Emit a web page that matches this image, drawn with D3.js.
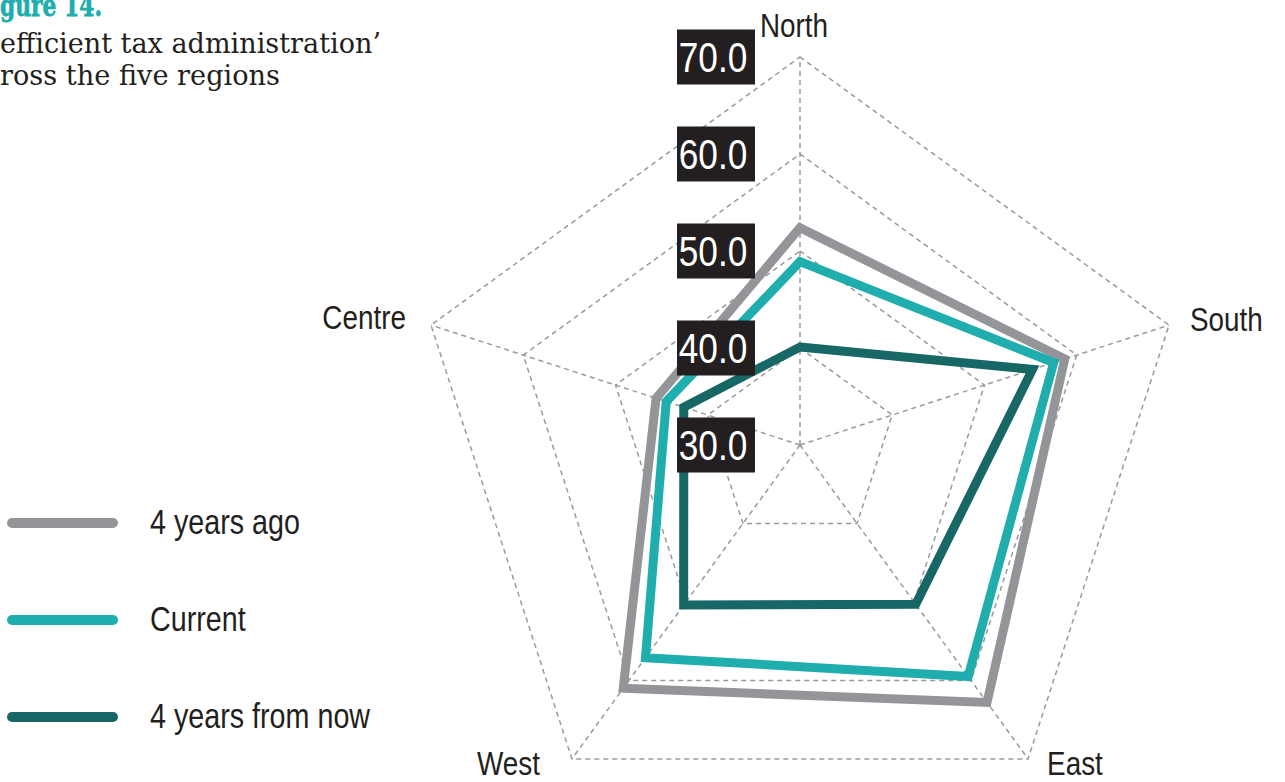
<!DOCTYPE html>
<html>
<head>
<meta charset="utf-8">
<script src="https://cdn.jsdelivr.net/npm/d3@7"></script>
<style>
  body { margin: 0; background: #fff; }
  svg { display: block; }
  .cond { font-family: "Liberation Sans", Arial, sans-serif; }
</style>
</head>
<body>
<div id="chart"></div>
<script>
// regions, clockwise from the top
const regions = ["North", "South", "East", "West", "Centre"];
const seriesNames = ["4 years ago", "Current", "4 years from now"];
const fourYearsAgo = [52.4, 58.7, 62.8, 61.0, 45.6];
const current = [48.9, 57.5, 59.5, 57.1, 44.5];
const fourYearsFromNow = [40.1, 55.2, 50.3, 50.4, 42.6];
const ticks = [30, 40, 50, 60, 70];
const colors = ["#939598", "#20adad", "#176767"];

const width = 1285, height = 782;
const cx = 800, cy = 445, radius = 388;
const narrow = 0.82; // fake a condensed face

const svg = d3.select("#chart").append("svg")
  .attr("width", width)
  .attr("height", height);

const r = d3.scaleLinear().domain([30, 70]).range([0, radius]);
const angle = d3.scalePoint().domain(regions.concat(["_end"])).range([0, 2 * Math.PI]);

function pt(region, value) {
  const a = angle(region);
  return [cx + r(value) * Math.sin(a), cy - r(value) * Math.cos(a)];
}

const g = svg.append("g");

// grid rings (centre value is just the middle point)
const lineClosed = d3.line().curve(d3.curveLinearClosed);
g.selectAll(".ring")
  .data(ticks.filter(t => t > 30))
  .enter()
  .append("path")
  .attr("class", "ring")
  .attr("d", t => lineClosed(regions.map(reg => pt(reg, t))))
  .attr("fill", "none")
  .attr("stroke", "#9a9a9c")
  .attr("stroke-width", 1.5)
  .attr("stroke-dasharray", "5,4");

// spokes
g.selectAll(".spoke")
  .data(regions)
  .enter()
  .append("line")
  .attr("class", "spoke")
  .attr("x1", cx)
  .attr("y1", cy)
  .attr("x2", d => pt(d, 70)[0])
  .attr("y2", d => pt(d, 70)[1])
  .attr("stroke", "#9a9a9c")
  .attr("stroke-width", 1.5)
  .attr("stroke-dasharray", "5,4");

// series
const series = [fourYearsAgo, current, fourYearsFromNow];
g.selectAll(".series")
  .data(series)
  .enter()
  .append("path")
  .attr("class", "series")
  .attr("d", vals => lineClosed(regions.map((reg, i) => pt(reg, vals[i]))))
  .attr("fill", "none")
  .attr("stroke", (d, i) => colors[i])
  .attr("stroke-width", 9)
  .attr("stroke-linejoin", "miter");

// tick labels in black boxes
const tickG = g.selectAll(".tick")
  .data(ticks)
  .enter()
  .append("g")
  .attr("class", "tick")
  .attr("transform", t => `translate(${cx - 123},${cy - r(t)})`);

tickG.append("rect")
  .attr("x", 0)
  .attr("y", -27.5)
  .attr("width", 78)
  .attr("height", 55)
  .attr("fill", "#231f20");

tickG.append("text")
  .attr("class", "cond")
  .attr("transform", `translate(36,15) scale(${narrow},1)`)
  .attr("text-anchor", "middle")
  .attr("fill", "#fff")
  .style("font-size", "43px")
  .text(d3.format(".1f"));

// region labels
const labelPos = {
  North: { dx: -6, dy: -20, anchor: "middle" },
  South: { dx: 21, dy: 6, anchor: "start" },
  East: { dx: 19, dy: 16, anchor: "start" },
  West: { dx: -32, dy: 16, anchor: "end" },
  Centre: { dx: -25, dy: 4, anchor: "end" }
};
g.selectAll(".region")
  .data(regions)
  .enter()
  .append("text")
  .attr("class", "cond region")
  .attr("transform", d => {
    const p = pt(d, 70);
    return `translate(${p[0] + labelPos[d].dx},${p[1] + labelPos[d].dy}) scale(${narrow},1)`;
  })
  .attr("text-anchor", d => labelPos[d].anchor)
  .attr("fill", "#231f20")
  .style("font-size", "34px")
  .text(d => d);

// legend
const legend = svg.append("g")
  .selectAll(".legend")
  .data(seriesNames)
  .enter()
  .append("g")
  .attr("class", "legend")
  .attr("transform", (d, i) => `translate(0,${523 + i * 97})`);

legend.append("line")
  .attr("x1", 12)
  .attr("x2", 113)
  .attr("stroke", (d, i) => colors[i])
  .attr("stroke-width", 10)
  .attr("stroke-linecap", "round");

legend.append("text")
  .attr("class", "cond")
  .attr("transform", `translate(150,11) scale(${narrow},1)`)
  .attr("fill", "#231f20")
  .style("font-size", "35px")
  .text(d => d);

// title (cropped at the left edge in the source)
const title = svg.append("g")
  .style("font-family", "'DejaVu Serif', serif");

title.append("text")
  .attr("x", 0)
  .attr("y", 16)
  .attr("fill", "#20adad")
  .attr("stroke", "#20adad")
  .attr("stroke-width", 0.8)
  .attr("font-weight", "bold")
  .attr("textLength", 102)
  .attr("lengthAdjust", "spacingAndGlyphs")
  .style("font-size", "30px")
  .text("gure 14.");

title.append("text")
  .attr("x", 0)
  .attr("y", 53)
  .attr("fill", "#231f20")
  .attr("textLength", 381)
  .attr("lengthAdjust", "spacingAndGlyphs")
  .style("font-size", "28px")
  .text("efficient tax administration\u2019");

title.append("text")
  .attr("x", 0)
  .attr("y", 85)
  .attr("fill", "#231f20")
  .attr("textLength", 280)
  .attr("lengthAdjust", "spacingAndGlyphs")
  .style("font-size", "28px")
  .text("ross the five regions");
</script>
</body>
</html>
